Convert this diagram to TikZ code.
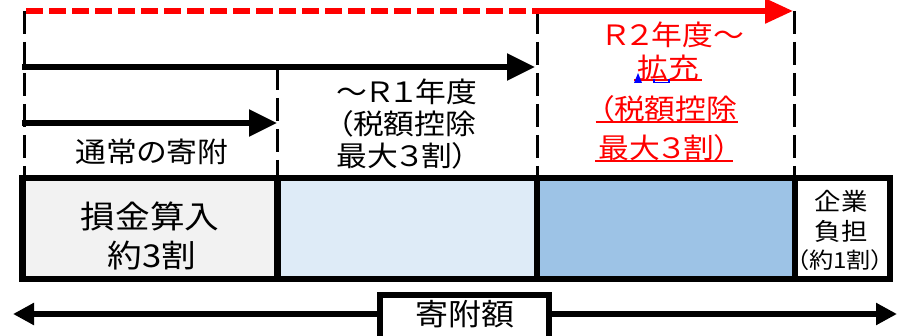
\documentclass[tikz,border=0pt]{standalone}
\usepackage{fontspec}
\setmainfont[RawFeature=+palt, FakeStretch=1.1]{Noto Sans CJK JP}
\usetikzlibrary{arrows.meta}
\definecolor{cellgray}{HTML}{F2F2F2}
\definecolor{cellpale}{HTML}{DEEBF7}
\definecolor{cellblue}{HTML}{9DC3E6}
\definecolor{markblue}{HTML}{0000FF}
\definecolor{txtred}{HTML}{FF0000}
\begin{document}
\begin{tikzpicture}[x=1pt,y=-1pt,
  guide/.style={line width=3pt, dash pattern=on 23pt off 8pt},
  bigarrow/.style={line width=5.5pt, -{Triangle[length=28pt,width=26pt]}},
  redarrow/.style={line width=5.5pt, txtred, -{Triangle[length=28pt,width=24pt]}},
  reddash/.style={line width=5.5pt, txtred, dash pattern=on 17pt off 6pt},
  sumarrow/.style={line width=5.5pt, -{Triangle[length=21pt,width=21pt]}},
  cellbox/.style={line width=6.5pt},
  txt/.style={inner sep=0pt, font=\fontsize{28}{32}\selectfont},
  bigtxt/.style={inner sep=0pt, font=\fontsize{31.5}{36}\selectfont},
  midtxt/.style={inner sep=0pt, font=\fontsize{24}{28}\selectfont},
  smalltxt/.style={inner sep=0pt, font=\fontsize{22}{26}\selectfont},
  redtxt/.style={txt, text=txtred},
  uline/.style={line width=2pt, txtred},
]
\useasboundingbox (0,0) rectangle (901,336);
\clip (0,0) rectangle (901,336);
\fill[white] (0,0) rectangle (901,336);

% coordinates
\coordinate (rs) at (26,11);
\coordinate (rm) at (537,11);
\coordinate (re) at (793,11);
\coordinate (bs2) at (22,67);
\coordinate (be2) at (535,67);
\coordinate (bs1) at (22,123);
\coordinate (be1) at (277,123);
\coordinate (g0t) at (24,11);
\coordinate (g0b) at (24,178);
\coordinate (g1t) at (277,67);
\coordinate (g1b) at (277,178);
\coordinate (g2t) at (537,11);
\coordinate (g2b) at (537,178);
\coordinate (g3t) at (794,11);
\coordinate (g3b) at (794,178);
\coordinate (lt) at (13,314);
\coordinate (rt) at (897,314);

% guides
\draw[guide] (g0t) -- (g0b);
\draw[guide] (g1t) -- (g1b);
\draw[guide] (g2t) -- (g2b);
\draw[guide] (g3t) -- (g3b);

% arrows
\draw[reddash] (rs) -- (rm);
\draw[redarrow] (rm) -- (re);
\draw[bigarrow] (bs2) -- (be2);
\draw[bigarrow] (bs1) -- (be1);

% cells
\fill[cellgray] (22.5,178) rectangle (277.5,279);
\fill[cellpale] (277.5,178) rectangle (537,279);
\fill[cellblue] (537,178) rectangle (795,279);
\fill[white] (795,178) rectangle (890,279);
\draw[cellbox] (22.5,178) rectangle (890,279);
\draw[cellbox] (277.5,178) -- (277.5,279);
\draw[cellbox] (537,178) -- (537,279);
\draw[cellbox] (795,178) -- (795,279);

% texts
\node[txt] (t0) at (152,152) {通常の寄附};
\node[txt] (m1) at (407,92) {～Ｒ１年度};
\node[txt] (m2) at (407,124) {（税額控除};
\node[txt] (m3) at (402,156) {最大３割）};

\node[redtxt] (r1) at (674,35) {Ｒ２年度～};
\node[redtxt] (r2) at (668,68) {拡充};
\node[redtxt] (r3) at (668,109) {（税額控除};
\node[redtxt] (r4) at (664,148) {最大３割）};
\draw[uline] ([xshift=-3pt,yshift=1pt]r2.south west) -- ([xshift=3pt,yshift=1pt]r2.south east);
\draw[uline] ([xshift=-3pt,yshift=1pt]r3.south west) -- ([xshift=0pt,yshift=1pt]r3.south east);
\draw[uline] ([xshift=-3pt,yshift=1pt]r4.south west) -- ([xshift=3pt,yshift=1pt]r4.south east);
% small blue marks near 拡充
\fill[markblue] (634,83) -- (638,73) -- (642,83) -- cycle;
\draw[markblue, line width=1.2pt] (654,79) -- (654,82.5) -- (669,82.5) -- (669,79);

\node[bigtxt] (k1) at (150,216) {損金算入};
\node[bigtxt] (k2) at (152,256) {約3割};

\node[midtxt] (c1) at (841,201) {企業};
\node[midtxt] (c2) at (841,231) {負担};
\node[smalltxt] (c3) at (840,260) {（約1割）};

% sum box
\node[draw, line width=6pt, fill=white, minimum width=169pt, minimum height=52pt, inner sep=0pt] (sumbox) at (464.5,321) {};
\node[inner sep=0pt, font=\fontsize{30}{34}\selectfont] (sum) at (464.5,314) {寄附額};
\draw[sumarrow] (sumbox.west |- sum) -- (lt);
\draw[sumarrow] (sumbox.east |- sum) -- (rt);
\end{tikzpicture}
\end{document}
